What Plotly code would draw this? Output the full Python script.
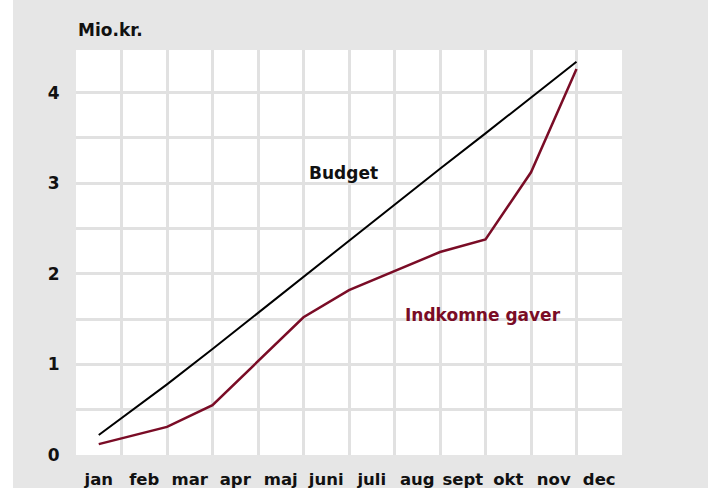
import plotly.graph_objects as go

months = ["jan", "feb", "mar", "apr", "maj", "juni", "juli", "aug", "sept", "okt", "nov", "dec"]
# positions of the data points on the month axis (jan mid-month, then month ends)
point_pos = [0, 1.5, 2.5, 3.5, 4.5, 5.5, 6.5, 7.5, 8.5, 9.5, 10.5]
budget = [0.22, 0.78, 1.17, 1.57, 1.97, 2.37, 2.76, 3.16, 3.55, 3.95, 4.34]
gaver = [0.12, 0.31, 0.55, 1.04, 1.52, 1.82, 2.03, 2.24, 2.38, 3.12, 4.26]
y_ticks = [0, 0.5, 1, 1.5, 2, 2.5, 3, 3.5, 4, 4.5]
y_ticktext = ["0", "", "1", "", "2", "", "3", "", "4", ""]

FONT = "DejaVu Sans"
RED = "#7a0c26"
GRID = "#e1e1e1"
INK = "#111111"

fig = go.Figure()
fig.add_trace(go.Scatter(x=point_pos, y=budget, mode="lines",
                         line=dict(color="#000000", width=2), hoverinfo="skip"))
fig.add_trace(go.Scatter(x=point_pos, y=gaver, mode="lines",
                         line=dict(color=RED, width=2.5), hoverinfo="skip"))

fig.update_layout(
    width=708, height=488, autosize=False,
    margin=dict(l=76, r=86, t=50, b=33),
    paper_bgcolor="#e6e6e6",
    plot_bgcolor="#ffffff",
    showlegend=False,
    font=dict(family=FONT, size=16, color=INK, weight="bold"),
    xaxis=dict(
        range=[-0.5, 11.5],
        automargin=False,
        tickmode="array",
        tickvals=list(range(len(months))),
        ticktext=months,
        showgrid=False,
        zeroline=False,
        showline=False,
        ticks="outside", ticklen=9, tickcolor="rgba(0,0,0,0)",
        tickfont=dict(family=FONT, size=16.5, color=INK, weight="bold"),
        minor=dict(tickmode="array", tickvals=[i + 0.5 for i in range(-1, 12)],
                   showgrid=True, gridcolor=GRID, gridwidth=3, ticks=""),
        fixedrange=True,
    ),
    yaxis=dict(
        range=[0, 4.47],
        automargin=False,
        tickmode="array",
        tickvals=y_ticks,
        ticktext=y_ticktext,
        showgrid=True, gridcolor=GRID, gridwidth=3,
        zeroline=False,
        showline=False,
        ticks="outside", ticklen=12, tickcolor="rgba(0,0,0,0)",
        tickfont=dict(family=FONT, size=17, color=INK, weight="bold"),
        fixedrange=True,
    ),
    annotations=[
        dict(text="Mio.kr.", xref="paper", yref="paper", x=0, y=1,
             xanchor="left", yanchor="bottom", yshift=8, showarrow=False,
             font=dict(family=FONT, size=17, color=INK, weight="bold")),
        dict(text="Budget", xref="x", yref="y", x=5.37, y=3.115,
             showarrow=False,
             font=dict(family=FONT, size=17, color=INK, weight="bold")),
        dict(text="Indkomne gaver", xref="x", yref="y", x=8.45, y=1.54,
             showarrow=False,
             font=dict(family=FONT, size=17, color=RED, weight="bold")),
    ],
    shapes=[
        dict(type="rect", xref="paper", yref="paper", x0=-0.14, x1=-0.1154,
             y0=-0.1, y1=1.15, fillcolor="#ffffff", line=dict(width=0), layer="below"),
    ],
)

post = (
    "document.documentElement.style.margin='0';"
    "document.documentElement.style.overflow='hidden';"
    "document.body.style.margin='0';"
    "document.body.style.padding='0';"
    "document.body.style.overflow='hidden';"
)

fig.write_html("out.html",
               config={"displayModeBar": False},
               post_script=post)
